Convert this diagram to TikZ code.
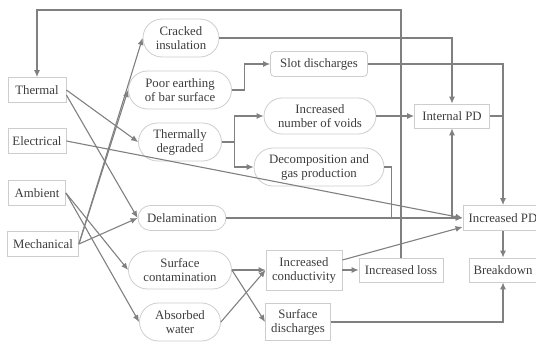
\documentclass[tikz,border=0pt]{standalone}
\usepackage{fontspec}
\setmainfont{Liberation Serif}
\usetikzlibrary{shapes.misc, arrows.meta}
\definecolor{linegray}{RGB}{128,128,128}
\definecolor{boxgray}{RGB}{205,205,205}
\definecolor{textgray}{RGB}{60,60,60}

\begin{document}
\begin{tikzpicture}[x = 1pt, y = -1pt, line width = 1.1pt, linegray,
  box/.style = {draw = boxgray, line width = 0.8pt, rectangle, align = center,
    text = textgray, inner sep = 1pt, minimum height = 25pt,
    font = \fontsize{12.8}{14}\selectfont},
  pill/.style = {box, rounded rectangle, minimum height = 38pt},
  arr/.style = {-{Latex[length = 7pt, width = 6pt]}}]
\useasboundingbox (0, 0) rectangle (536, 342);
% Causes
\node[box, minimum width = 58pt] (Thermal) at (37, 90) {Thermal};
\node[box, minimum width = 58pt] (Electrical) at (37, 141) {Electrical};
\node[box, minimum width = 57pt] (Ambient) at (37, 193) {Ambient};
\node[box, minimum width = 71pt] (Mechanical) at (43, 244) {Mechanical};
% First effects
\node[pill, minimum width = 78pt] (Cracked) at (181, 38) {Cracked\\insulation};
\node[pill, minimum width = 105pt] (Earthing) at (180, 90) {Poor earthing\\of bar surface};
\node[pill, minimum width = 85pt] (Degraded) at (180, 142) {Thermally\\degraded};
\node[pill, minimum width = 90pt, minimum height = 25pt] (Delam) at (182, 218) {Delamination};
\node[pill, minimum width = 105pt] (Contam) at (180, 270) {Surface\\contamination};
\node[pill, minimum width = 83pt] (Water) at (180, 322) {Absorbed\\water};
% Second effects
\node[box, rounded corners = 4pt, minimum width = 97pt] (Slot) at (319, 64) {Slot discharges};
\node[pill, minimum width = 114pt, minimum height = 36pt] (Voids) at (320, 116) {Increased\\number of voids};
\node[pill, minimum width = 132pt] (Decomp) at (319, 167) {Decomposition and\\gas production};
\node[box, minimum width = 76pt, minimum height = 40pt] (Cond) at (304, 270) {Increased\\conductivity};
\node[box, minimum width = 65pt, minimum height = 37pt] (SurfDis) at (298, 322) {Surface\\discharges};
\node[box, minimum width = 84pt, minimum height = 24pt] (Loss) at (401, 270) {Increased loss};
% Results
\node[box, minimum width = 75pt, minimum height = 24pt] (IntPD) at (452, 116) {Internal PD};
\node[box, minimum width = 80pt] (IncPD) at (503, 218) {Increased PD};
\node[box, minimum width = 68pt, minimum height = 24pt] (Breakdown) at (503, 270) {Breakdown};
% Feedback loop
\coordinate (Top) at (0, 10);
\draw[arr] (Loss.north) |- (Top -| Thermal.north) -- (Thermal.north);
% From the causes
\draw[arr] (Thermal.east) -- (Degraded.west);
\draw[arr] ([yshift = -5pt]Thermal.east) -- (Delam.west);
\draw[arr] (Electrical.east) -- (IncPD.west);
\draw[arr] (Ambient.east) -- (Contam.west);
\draw[arr] (Ambient.east) -- (Water.west);
\draw[arr] (Mechanical.east) -- (Cracked.west);
\draw[arr] (Mechanical.east) -- (Earthing.west);
\draw[arr] (Mechanical.east) -- (Delam.west);
% Middle connections
\draw[arr] (Cracked.east) -| (IntPD.north);
\draw[arr] (Earthing.east) -- ++(13, 0) |- (Slot.west);
\draw[arr] (Degraded.east) -- ++(13, 0) |- (Voids.west);
\draw[arr] (Degraded.east) -- ++(13, 0) |- (Decomp.west);
\draw (Decomp.east) -| ([xshift = 7pt]Decomp.east |- Delam.east);
\draw[arr] (Delam.east) -- (IncPD.west);
\draw[arr] (Contam.east) -- (Cond.west);
\draw[arr] (Contam.east) -- (SurfDis.west);
\draw[arr] (Water.east) -- (Cond.west);
% Towards the results
\draw[arr] (Slot.east) -| (IncPD.north);
\draw (IntPD.east) -- (IntPD.east -| IncPD.north);
\draw[arr] (Voids.east) -- (IntPD.west);
\draw[arr] (IntPD.south |- IncPD.west) -- (IntPD.south);
\draw[arr] ([yshift = 10pt]Cond.east) -- ([yshift = -9pt]IncPD.west);
\draw[arr] (Cond.east) -- (Loss.west);
\draw[arr] (IncPD.south) -- (Breakdown.north);
\draw[arr] (SurfDis.east) -| (Breakdown.south);
\end{tikzpicture}
\end{document}
